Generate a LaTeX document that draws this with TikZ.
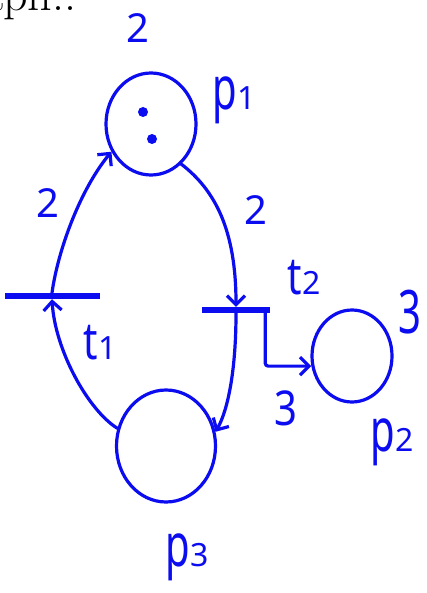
\documentclass[tikz,border=0pt]{standalone}
\usepackage{fontspec}
\setsansfont{Noto Sans}
\usetikzlibrary{shapes.geometric,arrows.meta}
\definecolor{ink}{RGB}{12,12,240}
\tikzset{
  place/.style={ellipse, draw=ink, line width=3.2pt, inner sep=0pt},
  trans/.style={rectangle, fill=ink, inner sep=0pt, minimum height=6pt},
  flow/.style={draw=ink, line width=3.2pt, line cap=round, line join=round,
    -{Straight Barb[length=9pt,width=18pt,line width=3.2pt]}},
  lbl/.style={text=ink, inner sep=0pt, font=\sffamily\fontsize{40}{40}\selectfont},
  token/.style={circle, fill=ink, inner sep=0pt, minimum size=10pt},
}
% tall handwritten-like glyphs
\newcommand{\tall}[2]{\scalebox{1}[#1]{#2}}
\newcommand{\idx}[1]{{\fontsize{32}{32}\selectfont #1}}
\begin{document}
\begin{tikzpicture}[x=1pt,y=-1pt]
  \useasboundingbox (0,0) rectangle (426,593);
  \clip (0,0) rectangle (426,593);
  \fill[white] (0,0) rectangle (426,593);

  % heading text, cut by the top edge
  \node[anchor=base west, inner sep=0pt, font=\rmfamily\fontsize{48}{48}\selectfont] (head) at (-19,11) {aph..};

  % places
  \node[place, minimum width=90pt, minimum height=102pt] (p1) at (151,124) {};
  \node[place, minimum width=80pt, minimum height=92pt] (p2) at (352,356) {};
  \node[place, minimum width=99pt, minimum height=112pt] (p3) at (166,446) {};

  % tokens in p1
  \node[token] (k1) at (143,112) {};
  \node[token] (k2) at (152,139) {};

  % transitions
  \node[trans, minimum width=95pt] (t1) at (52,296) {};
  \node[trans, minimum width=68pt] (t2) at (236,310) {};

  % arcs
  \draw[flow] (p3.160) .. controls (88,410) and (55,350) .. (t1.south);
  \draw[flow] (t1.north) .. controls (58,250) and (80,190) .. (p1.215);
  \draw[flow] (p1.307) .. controls (215,190) and (236,230) .. (t2.north);
  \draw[flow] (t2.south) .. controls (236,370) and (228,410) .. (p3.16);
  \coordinate (t2out) at ([xshift=-5pt]t2.south east);
  \draw[flow, rounded corners=3pt] (t2out) |- (p2.194);

  % labels
  \node[lbl] (w0) at (138,28) {2};
  \node[lbl] (lp1) at (234,100) {\tall{1.5}{p}\idx{1}};
  \node[lbl] (w1) at (48,203) {2};
  \node[lbl] (w2) at (256,210) {2};
  \node[lbl] (lt2) at (304,278) {\tall{1.3}{t}\idx{2}};
  \node[lbl] (lt1) at (100,343) {\tall{1.3}{t}\idx{1}};
  \node[lbl] (w3) at (410,312) {\tall{1.5}{3}};
  \node[lbl] (w4) at (286,408) {\tall{1.2}{3}};
  \node[lbl] (lp2) at (392,442) {\tall{1.5}{p}\idx{2}};
  \node[lbl] (lp3) at (187,557) {\tall{1.5}{p}\idx{3}};
\end{tikzpicture}
\end{document}
